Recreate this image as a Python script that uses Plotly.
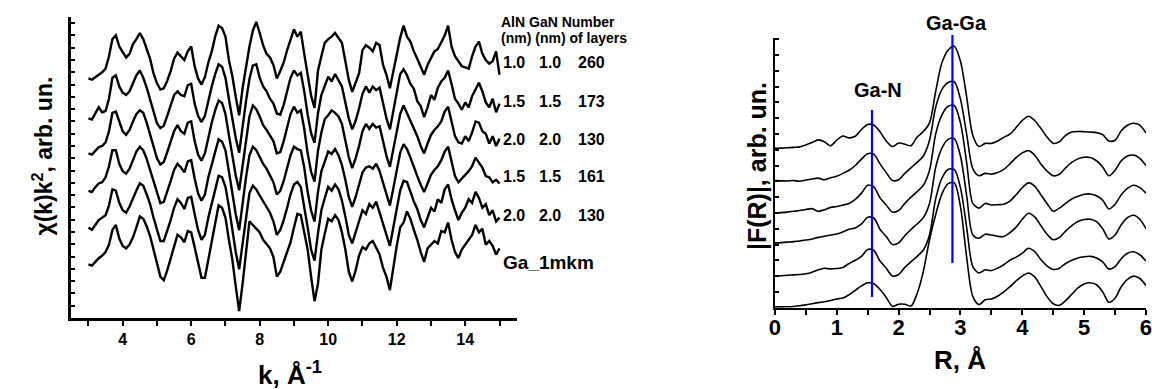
import plotly.graph_objects as go

# ---------------- data: left panel (chi(k)k^2) ----------------
K = [3.0, 3.1, 3.2, 3.3, 3.4, 3.5, 3.6, 3.7, 3.8, 3.9,
     4.0, 4.1, 4.2, 4.3, 4.4, 4.5, 4.6, 4.7, 4.8, 4.9,
     5.0, 5.1, 5.2, 5.3, 5.4, 5.5, 5.6, 5.7, 5.8, 5.9,
     6.0, 6.1, 6.2, 6.3, 6.4, 6.5, 6.6, 6.7, 6.8, 6.9,
     7.0, 7.1, 7.2, 7.3, 7.4, 7.5, 7.6, 7.7, 7.8, 7.9,
     8.0, 8.1, 8.2, 8.3, 8.4, 8.5, 8.6, 8.7, 8.8, 8.9,
     9.0, 9.1, 9.2, 9.3, 9.4, 9.5, 9.6, 9.7, 9.8, 9.9,
     10.0, 10.1, 10.2, 10.3, 10.4, 10.5, 10.6, 10.7, 10.8, 10.9,
     11.0, 11.1, 11.2, 11.3, 11.4, 11.5, 11.6, 11.7, 11.8, 11.9,
     12.0, 12.1, 12.2, 12.3, 12.4, 12.5, 12.6, 12.7, 12.8, 12.9,
     13.0, 13.1, 13.2, 13.3, 13.4, 13.5, 13.6, 13.7, 13.8, 13.9,
     14.0, 14.1, 14.2, 14.3, 14.4, 14.5, 14.6, 14.7, 14.8, 14.9,
     15.0]

chi_1_0_260 = [0.0, -0.1, 0.1, 0.3, 0.5, 0.8, 1.8, 3.2, 3.5, 2.6,
               2.1, 1.7, 2.0, 2.8, 3.2, 3.7, 3.2, 2.4, 1.6, 0.4,
               -0.4, -0.9, -0.8, -0.2, 0.6, 1.6, 2.1, 1.8, 1.5, 2.2,
               2.6, 1.0, 0.0, -0.5, 0.1, 1.3, 2.2, 3.4, 4.3, 4.1,
               3.4, 1.5, 0.2, -1.5, -3.0, -0.8, 1.1, 2.6, 3.9, 4.6,
               3.7, 2.7, 2.0, 1.7, 1.1, 0.0, 0.6, 1.3, 2.3, 3.2,
               4.0, 3.4, 3.8, 2.0, 0.1, -1.4, -2.4, 0.6, 1.8, 2.9,
               3.2, 3.4, 3.7, 3.3, 2.9, 1.4, -0.1, -1.1, -0.3, 0.4,
               2.3, 2.7, 2.5, 2.2, 2.9, 2.7, 1.1, 0.3, -0.8, 0.5,
               2.0, 3.3, 4.3, 3.4, 3.0, 2.2, 1.6, 0.9, 0.3, 1.1,
               1.6, 2.2, 2.4, 2.9, 3.5, 4.3, 2.6, 1.8, 1.4, 1.0,
               0.9, 0.8, 1.8, 2.6, 3.0, 2.0, 1.5, 1.2, 1.4, 2.2,
               0.3]

chi_1_5_173 = [0.0, -0.1, 0.4, 0.9, 0.5, 0.6, 1.6, 3.3, 3.5, 2.6,
               2.1, 1.9, 2.2, 2.9, 3.5, 3.9, 3.3, 2.5, 1.5, 0.4,
               -0.4, -0.8, -0.6, 0.2, 1.0, 1.9, 2.2, 1.9, 1.8, 2.7,
               2.8, 1.2, 0.2, -0.3, 0.2, 1.5, 2.6, 3.6, 4.4, 4.2,
               3.3, 1.6, 0.0, -1.6, -2.8, -0.6, 1.4, 3.2, 4.3, 4.4,
               3.3, 2.6, 2.2, 1.6, 1.2, 0.4, 0.3, 1.1, 2.3, 3.3,
               3.9, 3.5, 3.7, 2.2, 0.3, -1.2, -2.0, 0.4, 1.9, 2.6,
               3.4, 3.0, 3.6, 3.1, 2.6, 1.3, 0.0, -0.9, -0.2, 0.8,
               2.0, 2.6, 2.1, 2.6, 2.3, 2.5, 1.2, 0.0, -0.9, 0.6,
               2.2, 3.6, 4.0, 3.5, 2.8, 2.4, 1.4, 1.0, 0.1, 0.9,
               1.9, 1.5, 2.5, 3.0, 3.3, 3.9, 2.8, 1.6, 1.2, 0.7,
               1.3, 0.9, 1.8, 2.4, 2.9, 2.2, 1.3, 0.9, 1.6, 0.5,
               1.2]

chi_2_0_130a = [0.0, -0.1, 0.2, 0.5, 0.6, 0.9, 1.8, 3.3, 3.4, 2.5,
                1.8, 1.5, 1.9, 2.6, 3.2, 3.5, 3.3, 2.5, 1.6, 0.5,
                -0.4, -0.9, -0.7, 0.1, 1.0, 1.8, 2.3, 1.8, 1.6, 2.5,
                2.6, 1.0, -0.1, -0.6, 0.0, 1.4, 2.5, 3.5, 4.3, 4.1,
                3.2, 1.5, -0.2, -1.8, -3.0, -0.9, 1.2, 3.0, 3.9, 3.6,
                3.0, 2.3, 1.9, 1.4, 1.0, 0.0, 0.1, 1.0, 2.2, 3.2,
                3.8, 3.3, 3.5, 2.0, 0.0, -1.5, -2.3, 0.2, 1.7, 2.8,
                3.1, 3.5, 3.3, 3.0, 2.4, 1.0, -0.3, -1.2, -0.4, 0.6,
                1.8, 2.4, 2.0, 2.4, 2.1, 2.2, 0.9, -0.2, -1.1, 0.4,
                2.0, 3.2, 3.9, 3.3, 2.6, 2.0, 1.4, 0.6, 0.0, 0.8,
                1.5, 1.9, 2.2, 2.6, 3.4, 3.8, 2.5, 1.4, 0.9, 0.8,
                1.4, 1.0, 1.7, 2.6, 2.5, 1.8, 1.6, 0.8, 1.4, 0.6,
                1.2]

chi_1_5_161 = [0.0, -0.1, 0.3, 0.6, 0.7, 1.1, 2.0, 3.3, 3.3, 2.2,
               1.6, 1.4, 1.8, 2.5, 3.2, 3.6, 3.3, 2.6, 1.7, 0.6,
               -0.3, -1.0, -0.9, -0.1, 0.8, 1.7, 2.2, 1.9, 1.5, 2.4,
               2.5, 1.0, -0.2, -0.8, -0.3, 1.1, 2.2, 3.3, 4.2, 4.0,
               3.3, 1.6, -0.2, -1.9, -3.2, -1.0, 1.1, 2.9, 3.6, 3.3,
               2.7, 2.2, 1.8, 1.3, 0.7, -0.3, 0.0, 0.8, 1.9, 2.9,
               3.6, 3.4, 3.3, 1.9, -0.1, -1.6, -2.5, -0.1, 1.6, 2.5,
               3.2, 3.0, 3.4, 2.9, 2.1, 0.9, -0.5, -1.3, -0.5, 0.5,
               1.5, 1.9, 2.0, 1.8, 2.2, 1.6, 0.6, -0.4, -1.2, 0.2,
               1.8, 3.1, 3.8, 3.4, 2.7, 1.9, 1.2, 0.5, -0.1, 0.6,
               1.3, 1.7, 2.0, 2.5, 3.2, 3.6, 2.4, 1.2, 0.7, 1.0,
               1.3, 1.6, 2.0, 2.7, 2.3, 1.9, 1.2, 1.1, 0.7, 0.9,
               0.6]

chi_2_0_130b = [0.0, -0.2, 0.2, 0.6, 0.8, 1.0, 1.8, 3.1, 3.0, 2.0,
                1.4, 1.2, 1.7, 2.4, 3.0, 3.6, 3.4, 2.7, 1.9, 0.8,
                -0.2, -1.1, -1.1, -0.3, 0.6, 1.6, 2.3, 2.0, 1.5, 2.4,
                2.5, 1.1, -0.2, -1.0, -0.6, 0.8, 2.0, 3.2, 4.2, 4.1,
                3.3, 1.7, -0.1, -2.0, -3.4, -1.2, 1.0, 2.8, 3.4, 3.1,
                2.6, 2.1, 1.6, 1.2, 0.5, -0.6, -0.2, 0.6, 1.6, 2.7,
                3.5, 3.7, 3.3, 1.8, 0.0, -1.8, -2.7, -0.5, 1.4, 2.4,
                3.3, 3.0, 3.5, 3.1, 2.2, 0.9, -0.6, -1.3, -0.4, 0.6,
                1.4, 1.1, 1.9, 1.6, 2.1, 1.2, 0.2, -0.6, -1.5, 0.0,
                1.7, 3.0, 3.8, 3.7, 2.9, 2.1, 1.5, 0.6, 0.0, 0.8,
                1.6, 1.3, 2.3, 2.0, 3.1, 3.5, 2.3, 1.4, 0.6, 1.2,
                1.6, 2.3, 2.0, 2.9, 2.4, 1.6, 1.9, 1.0, 1.4, 0.5,
                0.8]

chi_Ga_1mkm = [0.0, -0.1, 0.2, 0.5, 0.7, 1.0, 1.6, 2.8, 3.2, 2.1,
               1.5, 1.3, 1.6, 2.2, 3.0, 3.9, 3.7, 3.1, 2.3, 1.1,
               0.1, -1.0, -1.3, -0.5, 0.5, 1.5, 2.4, 2.2, 1.8, 2.7,
               2.6, 1.4, 0.0, -1.1, -1.1, 0.3, 1.7, 3.4, 4.8, 4.6,
               3.8, 2.0, 0.4, -1.8, -3.8, -1.6, 1.0, 3.5, 3.2, 2.9,
               2.6, 2.0, 1.6, 1.3, 0.6, -1.0, -0.6, 0.2, 1.0, 1.8,
               3.0, 4.1, 4.0, 2.6, 1.2, -1.0, -3.0, -1.6, 1.2, 2.5,
               3.7, 3.5, 4.0, 3.6, 2.6, 1.2, -0.6, -1.4, -0.5, 0.7,
               1.4, 1.2, 1.7, 1.9, 1.3, 0.8, -0.3, -1.0, -2.1, -0.2,
               1.5, 3.0, 3.4, 4.3, 3.7, 2.8, 2.0, 1.0, 0.2, 1.3,
               1.6, 1.9, 1.7, 2.7, 2.6, 3.4, 2.0, 1.0, 0.5, 1.2,
               1.6, 2.0, 2.4, 3.2, 2.6, 2.9, 1.6, 1.9, 1.5, 0.8,
               1.3]

k_series = [chi_1_0_260, chi_1_5_173, chi_2_0_130a, chi_1_5_161, chi_2_0_130b, chi_Ga_1mkm]
k_offsets = [19.5, 16.25, 13.4, 10.35, 7.37, 4.37]

# ---------------- data: right panel |F(R)| ----------------
R = [0.0, 0.1, 0.2, 0.3, 0.4, 0.5, 0.6, 0.7, 0.8, 0.9,
     1.0, 1.1, 1.2, 1.3, 1.4, 1.5, 1.6, 1.7, 1.8, 1.9,
     2.0, 2.1, 2.2, 2.3, 2.4, 2.5, 2.6, 2.7, 2.8, 2.9,
     3.0, 3.1, 3.2, 3.3, 3.4, 3.5, 3.6, 3.7, 3.8, 3.9,
     4.0, 4.1, 4.2, 4.3, 4.4, 4.5, 4.6, 4.7, 4.8, 4.9,
     5.0, 5.1, 5.2, 5.3, 5.4, 5.5, 5.6, 5.7, 5.8, 5.9,
     6.0]

F_1_0_260 = [0.09, 0.1, 0.12, 0.15, 0.18, 0.3, 0.45, 0.62, 0.5, 0.25,
             0.6, 0.87, 0.75, 0.85, 1.28, 1.6, 1.55, 1.14, 0.55, 0.2,
             0.42, 0.35, 0.25, 0.8, 1.15, 1.7, 3.7, 5.5, 6.3, 6.55,
             5.6, 3.35, 0.9, 0.2, 0.4, 0.4, 0.55, 0.78, 0.98, 1.4,
             1.85, 2.12, 1.85, 1.35, 0.8, 0.4, 0.5, 0.9, 1.12, 1.15,
             1.14, 1.12, 1.08, 0.95, 0.55, 0.6, 1.2, 1.55, 1.67, 1.55,
             1.05]

F_1_5_173 = [0.04, 0.03, 0.02, 0.05, 0.0, 0.08, 0.15, 0.2, 0.1, 0.22,
             0.32, 0.5, 0.7, 1.0, 1.4, 1.75, 1.7, 1.1, 0.55, 0.05,
             0.1, 0.5, 0.85, 1.2, 1.6, 2.6, 4.7, 5.8, 6.25, 6.3,
             5.2, 3.0, 0.8, 0.35, 0.5, 0.45, 0.55, 0.75, 1.1, 1.5,
             1.8, 1.94, 1.65, 1.1, 0.65, 0.35, 0.45, 0.85, 1.2, 1.42,
             1.52, 1.5, 1.3, 0.9, 0.35, 0.7, 1.3, 1.6, 1.66, 1.45,
             1.0]

F_2_0_130a = [0.0, 0.02, 0.05, 0.1, 0.15, 0.22, 0.27, 0.1, 0.2, 0.35,
              0.4, 0.5, 0.6, 0.85, 1.25, 1.75, 1.65, 0.95, 0.5, 0.05,
              0.15, 0.6, 1.0, 1.35, 1.75, 2.7, 5.0, 6.2, 6.75, 6.8,
              5.7, 3.2, 0.6, 0.3, 0.6, 0.5, 0.52, 0.55, 0.75, 1.15,
              1.6, 1.9, 1.7, 1.15, 0.6, 0.1, 0.3, 0.6, 0.88, 1.05,
              1.18, 1.2, 1.08, 0.8, 0.25, 0.55, 1.15, 1.55, 1.75, 1.6,
              1.25]

F_1_5_161 = [0.1, 0.12, 0.15, 0.18, 0.22, 0.28, 0.35, 0.45, 0.52, 0.6,
             0.66, 0.8, 0.96, 1.05, 1.3, 1.72, 1.68, 0.95, 0.5, 0.0,
             0.1, 0.55, 0.95, 1.3, 1.7, 2.6, 4.9, 6.1, 6.65, 6.7,
             5.6, 3.1, 0.6, 0.4, 0.65, 0.6, 0.52, 0.5, 0.75, 1.1,
             1.6, 1.98, 1.75, 1.2, 0.65, 0.3, 0.45, 0.85, 1.2, 1.45,
             1.58, 1.6, 1.45, 1.0, 0.35, 0.6, 1.25, 1.7, 1.85, 1.6,
             1.0]

F_2_0_130b = [0.0, 0.02, 0.05, 0.08, 0.1, 0.15, 0.25, 0.4, 0.5, 0.45,
              0.48, 0.55, 0.8, 1.0, 1.25, 1.68, 1.62, 0.95, 0.5, 0.0,
              0.1, 0.55, 0.9, 1.25, 1.65, 2.6, 4.9, 6.2, 6.75, 6.75,
              5.6, 3.1, 0.6, 0.2, 0.4, 0.35, 0.5, 0.72, 1.0, 1.2,
              1.45, 1.76, 1.55, 1.05, 0.65, 0.42, 0.5, 0.8, 1.0, 1.15,
              1.22, 1.25, 1.15, 0.9, 0.45, 0.6, 1.1, 1.45, 1.54, 1.35,
              0.95]

F_Ga_1mkm = [0.05, 0.05, 0.06, 0.08, 0.12, 0.18, 0.25, 0.32, 0.38, 0.45,
             0.55, 0.62, 0.82, 1.1, 1.38, 1.58, 1.52, 1.15, 0.65, 0.08,
             0.22, 0.22, 0.1, 0.9, 2.3, 4.3, 5.9, 7.2, 7.85, 7.9,
             6.4, 3.2, 0.7, 0.2, 0.5, 0.55, 0.72, 1.0, 1.33, 1.7,
             2.0, 2.2, 1.95, 1.35, 0.7, 0.25, 0.15, 0.45, 0.85, 1.25,
             1.5, 1.58, 1.45, 1.0, 0.35, 0.6, 1.33, 1.8, 2.0, 1.85,
             1.4]

r_series = [F_1_0_260, F_1_5_173, F_2_0_130a, F_1_5_161, F_2_0_130b, F_Ga_1mkm]
r_offsets = [10.0, 8.0, 6.0, 4.0, 2.0, 0.0]

# legend table text
table_header = ["AlN GaN Number", "(nm) (nm) of layers"]
table_alN = ["1.0", "1.5", "2.0", "1.5", "2.0"]
table_gaN = ["1.0", "1.5", "2.0", "1.5", "2.0"]
table_layers = ["260", "173", "130", "161", "130"]
reference_label = "Ga_1mkm"

peak_names = ["Ga-N", "Ga-Ga"]
peak_R = [1.57, 2.87]

# ---------------- figure ----------------
W, H = 1152, 389
def px(x):
    return x / W
def py(y):
    return 1 - y / H

FONT = "Liberation Sans, Arial, sans-serif"
fig = go.Figure()

for vals, off in zip(k_series, k_offsets):
    fig.add_trace(go.Scatter(x=K, y=[v + off for v in vals], mode="lines",
                             line=dict(color="black", width=2.4),
                             xaxis="x", yaxis="y", showlegend=False, hoverinfo="skip"))

for vals, off in zip(r_series, r_offsets):
    fig.add_trace(go.Scatter(x=R, y=[v + off for v in vals], mode="lines",
                             line=dict(color="black", width=1.6, shape="spline", smoothing=0.8),
                             xaxis="x2", yaxis="y2", showlegend=False, hoverinfo="skip"))

tickfont_l = dict(family=FONT, size=16, color="black", weight="bold")
tickfont_r = dict(family=FONT, size=22, color="black", weight="bold")

fig.update_layout(
    width=W, height=H,
    margin=dict(l=0, r=0, t=0, b=0),
    paper_bgcolor="white", plot_bgcolor="white",
    xaxis=dict(domain=[px(66), px(516)], range=[2.5, 15.5], anchor="y",
               showline=True, linecolor="black", linewidth=2.5,
               ticks="outside", ticklen=5, tickwidth=2, tickcolor="black",
               tick0=0, dtick=2, tickfont=tickfont_l,
               minor=dict(dtick=1, ticks="outside", ticklen=5, tickwidth=2, tickcolor="black"),
               showgrid=False, zeroline=False),
    yaxis=dict(domain=[py(318), py(17)], range=[0, 24.5], anchor="x",
               showline=True, linecolor="black", linewidth=2.5,
               ticks="inside", ticklen=4, tickwidth=1.5, tickcolor="black",
               tick0=0, dtick=1, showticklabels=False,
               showgrid=False, zeroline=False),
    xaxis2=dict(domain=[px(777), 1.0], range=[0, 6.0], anchor="y2",
                showline=True, linecolor="black", linewidth=2.2,
                ticks="outside", ticklen=5, tickwidth=2, tickcolor="black",
                tick0=0, dtick=1, tickfont=tickfont_r, ticklabelstandoff=-6,
                ticklabeloverflow="allow",
                minor=dict(dtick=0.5, ticks="outside", ticklen=5, tickwidth=2, tickcolor="black"),
                showgrid=False, zeroline=False),
    yaxis2=dict(domain=[py(307.7), py(38)], range=[0, 17.07], anchor="x2",
                showline=True, linecolor="black", linewidth=2.2,
                ticks="inside", ticklen=4, tickwidth=1.5, tickcolor="black",
                tick0=0, dtick=1, showticklabels=False,
                showgrid=False, zeroline=False),
)

# blue peak markers
line_extent = [(py(297), py(110)), (py(263), py(35))]
for r0, (y0, y1) in zip(peak_R, line_extent):
    fig.add_shape(type="line", xref="x2", yref="paper", x0=r0, x1=r0, y0=y0, y1=y1,
                  line=dict(color="#0000ff", width=2.2))

ann = []
def A(text, x, y, size, xanchor="center", angle=0):
    ann.append(dict(text=text, x=px(x), y=py(y), xref="paper", yref="paper",
                    xanchor=xanchor, yanchor="middle", showarrow=False, textangle=angle,
                    font=dict(family=FONT, size=size, color="black", weight="bold")))

A("χ(k)k<sup>2</sup>, arb. un.", 37, 156, 23, angle=-90)
A("k, Å<sup>-1</sup>", 287, 373, 26)
A("|F(R)|, arb. un.", 759, 166, 25, angle=-90)
A("R, Å", 964, 360, 26)
A(peak_names[0], 881, 90, 20)
A(peak_names[1], 960, 23, 20)

A(table_header[0], 498, 22, 14, xanchor="left")
A(table_header[1], 498, 38, 14, xanchor="left")
row_y = [63, 101, 139, 177, 215]
for a, g, n, yy in zip(table_alN, table_gaN, table_layers, row_y):
    A(a, 500, yy, 16, xanchor="left")
    A(g, 537, yy, 16, xanchor="left")
    A(n, 576, yy, 16, xanchor="left")
A(reference_label, 500, 262, 19, xanchor="left")

fig.update_layout(annotations=ann)
fig.write_html("out.html", config={"displayModeBar": False},
               post_script="document.body.style.margin='0';document.body.style.overflow='hidden';")
